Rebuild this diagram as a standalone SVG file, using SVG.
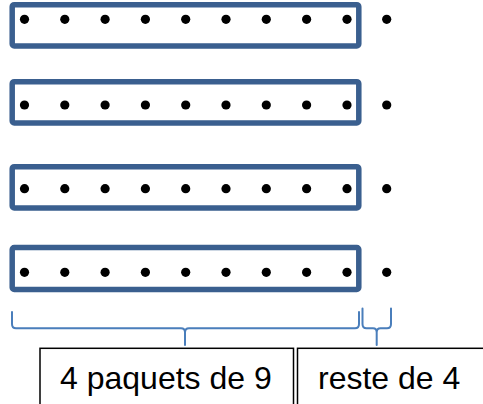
<svg xmlns="http://www.w3.org/2000/svg" width="483" height="404" viewBox="0 0 483 404">
  <defs>
    <style>
      .pack { fill: #ffffff; stroke: #3a5f8f; stroke-width: 5.5; }
      .dot { fill: #000000; }
      .brace { fill: none; stroke: #4a7ebb; stroke-width: 2; stroke-linejoin: round; stroke-linecap: round; }
      .label-box { fill: #ffffff; stroke: #000000; stroke-width: 1.5; }
      .label { font-family: "Liberation Sans", Arial, sans-serif; font-size: 32px; fill: #000000; }
    </style>
    <!-- one row of nine dots, spaced 40.3px apart -->
    <g id="nine">
      <circle class="dot" cx="24.5" cy="0" r="4.6"/>
      <circle class="dot" cx="64.8" cy="0" r="4.6"/>
      <circle class="dot" cx="105.1" cy="0" r="4.6"/>
      <circle class="dot" cx="145.4" cy="0" r="4.6"/>
      <circle class="dot" cx="185.7" cy="0" r="4.6"/>
      <circle class="dot" cx="226" cy="0" r="4.6"/>
      <circle class="dot" cx="266.3" cy="0" r="4.6"/>
      <circle class="dot" cx="306.6" cy="0" r="4.6"/>
      <circle class="dot" cx="347" cy="0" r="4.6"/>
    </g>
  </defs>

  <rect width="483" height="404" fill="#ffffff"/>

  <!-- packets of nine -->
  <g id="packet1">
    <rect class="pack" x="12.2" y="4.7" width="346.6" height="41.3" rx="2"/>
    <use href="#nine" y="19.3"/>
  </g>
  <g id="packet2">
    <rect class="pack" x="12.2" y="81.7" width="346.6" height="41.3" rx="2"/>
    <use href="#nine" y="105"/>
  </g>
  <g id="packet3">
    <rect class="pack" x="12.2" y="166.7" width="346.6" height="41.3" rx="2"/>
    <use href="#nine" y="188.7"/>
  </g>
  <g id="packet4">
    <rect class="pack" x="12.2" y="247.5" width="346.6" height="42" rx="2"/>
    <use href="#nine" y="272.3"/>
  </g>

  <!-- leftover dots -->
  <g id="remainder">
    <circle class="dot" cx="386.7" cy="19.3" r="4.6"/>
    <circle class="dot" cx="386.7" cy="105" r="4.6"/>
    <circle class="dot" cx="386.7" cy="188.7" r="4.6"/>
    <circle class="dot" cx="386.7" cy="272.3" r="4.6"/>
  </g>

  <!-- braces -->
  <g id="braces">
    <path class="brace" d="M12 312 L12 324 Q12 328.3 16 328.3 L181 328.3 Q185 328.3 185 332.5 L185 345 M185 332.5 Q185 328.3 189 328.3 L355 328.3 Q359 328.3 359 324 L359 312"/>
    <path class="brace" d="M362.5 308.5 L362.5 324 Q362.5 328.3 366.5 328.3 L373 328.3 Q376.7 328.3 376.7 332.5 L376.7 345 M376.7 332.5 Q376.7 328.3 380.5 328.3 L387 328.3 Q391 328.3 391 324 L391 308.5"/>
  </g>

  <!-- labels -->
  <g id="label-packets">
    <rect class="label-box" x="40" y="348.3" width="253.5" height="70"/>
    <text class="label" x="60" y="389.3">4 paquets de 9</text>
  </g>
  <g id="label-rest">
    <rect class="label-box" x="297.5" y="348.3" width="200" height="70"/>
    <text class="label" x="318" y="389.3">reste de 4</text>
  </g>
</svg>
